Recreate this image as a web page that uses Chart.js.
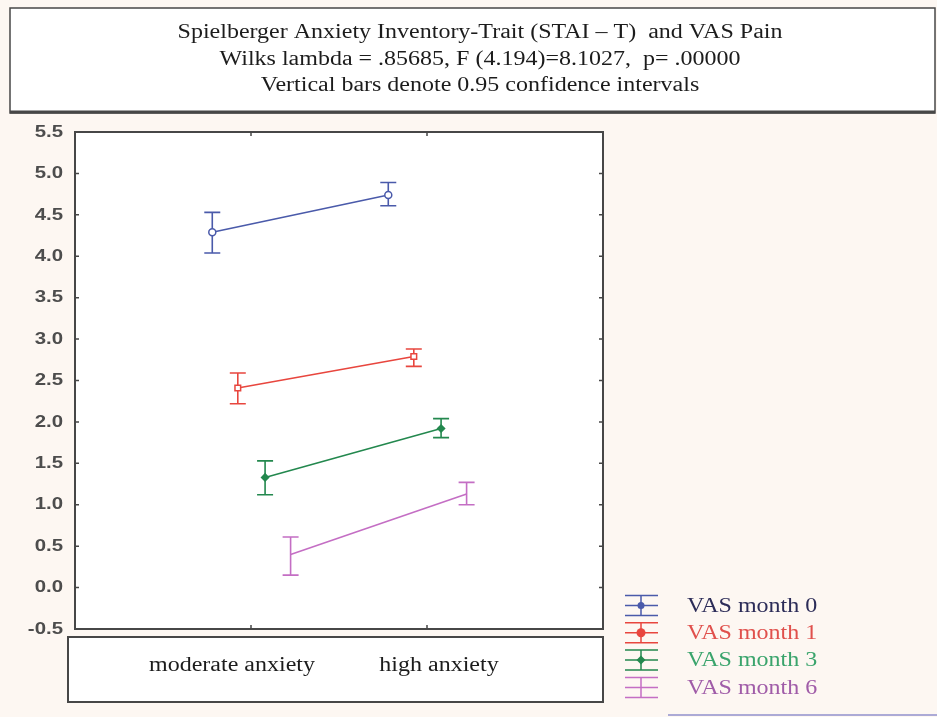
<!DOCTYPE html>
<html>
<head>
<meta charset="utf-8">
<script src="https://cdn.jsdelivr.net/npm/chart.js@4.4.1/dist/chart.umd.min.js"></script>
<style>
  html, body { margin: 0; padding: 0; background: #fdf7f2; }
  canvas { display: block; }
</style>
</head>
<body>
<canvas id="anxietyChart" width="937" height="717"></canvas>
<script>
// groups on the x axis (positions 1 and 2 of a linear scale)
const categories = ['moderate anxiety', 'high anxiety'];
const seriesNames = ['VAS month 0', 'VAS month 1', 'VAS month 3', 'VAS month 6'];

// mean VAS pain and 0.95 confidence limits per group
const month0Mean = [4.29, 4.74];
const month0Low  = [4.04, 4.61];
const month0High = [4.53, 4.89];

const month1Mean = [2.41, 2.79];
const month1Low  = [2.22, 2.67];
const month1High = [2.59, 2.88];

const month3Mean = [1.33, 1.92];
const month3Low  = [1.12, 1.81];
const month3High = [1.53, 2.04];

const month6Mean = [0.40, 1.13];
const month6Low  = [0.15, 1.00];
const month6High = [0.61, 1.27];

const yMin = -0.5, yMax = 5.5, yStep = 0.5;

const titleLines = [
  'Spielberger Anxiety Inventory-Trait (STAI \u2013 T)  and VAS Pain',
  'Wilks lambda = .85685, F (4.194)=8.1027,  p= .00000',
  'Vertical bars denote 0.95 confidence intervals'
];

const serif = '"Liberation Serif", "Times New Roman", serif';
const sans = '"Liberation Sans", Arial, sans-serif';
const frameColor = '#474747';
const lineColors = ['#4a5aaa', '#e8463e', '#23884e', '#c46ec4'];
const textColors = ['#2c2c58', '#e0504c', '#3aa46c', '#a05ca8'];
// small horizontal shift so the four series don't overlap at each group
const seriesShift = [-0.22, -0.075, 0.08, 0.225];
// all text is set a little wide
const textStretch = 1.2;

const means = [month0Mean, month1Mean, month3Mean, month6Mean];
const lows  = [month0Low, month1Low, month3Low, month6Low];
const highs = [month0High, month1High, month3High, month6High];

const pointStyles = [
  { style: 'circle', radius: 3.5, bg: '#ffffff' },
  { style: 'rect', radius: 4, bg: '#ffffff' },
  { style: 'rectRot', radius: 3.5, bg: lineColors[2] },
  { style: 'circle', radius: 0, bg: lineColors[3] }
];

const datasets = seriesNames.map((name, s) => ({
  label: name,
  data: means[s].map((v, i) => ({ x: i + 1 + seriesShift[s], y: v })),
  borderColor: lineColors[s],
  borderWidth: 1.6,
  pointStyle: pointStyles[s].style,
  pointRadius: pointStyles[s].radius,
  pointBackgroundColor: pointStyles[s].bg,
  pointBorderColor: lineColors[s],
  pointBorderWidth: 1.5,
  tension: 0
}));

function wideText(ctx, text, x, y, align) {
  ctx.save();
  ctx.translate(x, y);
  ctx.scale(textStretch, 1);
  ctx.textAlign = align;
  ctx.fillText(text, 0, 0);
  ctx.restore();
}

const decorations = {
  id: 'decorations',
  beforeDraw(chart) {
    const ctx = chart.ctx, a = chart.chartArea;
    ctx.save();
    ctx.fillStyle = '#fdf7f2';
    ctx.fillRect(0, 0, chart.width, chart.height);

    // title box
    ctx.fillStyle = '#ffffff';
    ctx.fillRect(10, 8, 925, 105);
    ctx.strokeStyle = frameColor;
    ctx.lineWidth = 1.5;
    ctx.strokeRect(10, 8, 925, 105);
    ctx.lineWidth = 3;
    ctx.beginPath(); ctx.moveTo(10, 112); ctx.lineTo(935, 112); ctx.stroke();
    ctx.fillStyle = '#1c1c1c';
    ctx.font = '20px ' + serif;
    ctx.textBaseline = 'alphabetic';
    titleLines.forEach((t, i) => wideText(ctx, t, 480, 38 + i * 26.5, 'center'));

    // white plot area
    ctx.fillStyle = '#ffffff';
    ctx.fillRect(a.left, a.top, a.right - a.left, a.bottom - a.top);
    ctx.restore();
  },
  beforeDatasetsDraw(chart) {
    // confidence interval whiskers
    const ctx = chart.ctx, xs = chart.scales.x, ys = chart.scales.y;
    ctx.save();
    ctx.lineWidth = 1.6;
    means.forEach((m, s) => {
      ctx.strokeStyle = lineColors[s];
      m.forEach((v, i) => {
        const px = xs.getPixelForValue(i + 1 + seriesShift[s]);
        const top = ys.getPixelForValue(highs[s][i]);
        const bot = ys.getPixelForValue(lows[s][i]);
        ctx.beginPath();
        ctx.moveTo(px, top); ctx.lineTo(px, bot);
        ctx.moveTo(px - 8, top); ctx.lineTo(px + 8, top);
        ctx.moveTo(px - 8, bot); ctx.lineTo(px + 8, bot);
        ctx.stroke();
      });
    });
    ctx.restore();
  },
  afterDraw(chart) {
    const ctx = chart.ctx, a = chart.chartArea, xs = chart.scales.x, ys = chart.scales.y;
    ctx.save();

    // plot frame with inward tick marks
    ctx.strokeStyle = frameColor;
    ctx.lineWidth = 2;
    ctx.strokeRect(a.left, a.top, a.right - a.left, a.bottom - a.top);
    ctx.lineWidth = 1.5;
    ctx.beginPath();
    ys.ticks.forEach(t => {
      if (t.value <= yMin || t.value >= yMax) return;
      const py = ys.getPixelForValue(t.value);
      ctx.moveTo(a.left, py); ctx.lineTo(a.left + 4, py);
      ctx.moveTo(a.right, py); ctx.lineTo(a.right - 4, py);
    });
    categories.forEach((c, i) => {
      const px = xs.getPixelForValue(i + 1);
      ctx.moveTo(px, a.bottom); ctx.lineTo(px, a.bottom - 4);
      ctx.moveTo(px, a.top); ctx.lineTo(px, a.top + 4);
    });
    ctx.stroke();

    // y tick labels
    ctx.fillStyle = '#4d4d4d';
    ctx.font = 'bold 17px ' + sans;
    ctx.textBaseline = 'middle';
    ys.ticks.forEach(t => {
      wideText(ctx, t.value.toFixed(1), 63, ys.getPixelForValue(t.value), 'right');
    });

    // category label box
    ctx.fillStyle = '#ffffff';
    ctx.fillRect(68, 637, a.right - 68, 65);
    ctx.lineWidth = 2;
    ctx.strokeRect(68, 637, a.right - 68, 65);
    ctx.fillStyle = '#1c1c1c';
    ctx.font = '20px ' + serif;
    const labelNudge = [-19, 12];
    categories.forEach((c, i) => {
      wideText(ctx, c, xs.getPixelForValue(i + 1) + labelNudge[i], 666, 'center');
    });

    // legend
    seriesNames.forEach((name, s) => {
      const cy = 605.5 + s * 27.3;
      ctx.strokeStyle = lineColors[s];
      ctx.lineWidth = 1.5;
      ctx.beginPath();
      [-10, 0, 10].forEach(d => { ctx.moveTo(625, cy + d); ctx.lineTo(658, cy + d); });
      ctx.moveTo(641, cy - 10); ctx.lineTo(641, cy + 10);
      ctx.stroke();
      ctx.fillStyle = lineColors[s];
      if (s === 0 || s === 1) {
        ctx.beginPath(); ctx.arc(641, cy, s === 1 ? 4.5 : 3.5, 0, Math.PI * 2); ctx.fill();
      } else if (s === 2) {
        ctx.beginPath();
        ctx.moveTo(641, cy - 4.5); ctx.lineTo(645.5, cy); ctx.lineTo(641, cy + 4.5); ctx.lineTo(636.5, cy);
        ctx.closePath(); ctx.fill();
      }
      ctx.fillStyle = textColors[s];
      wideText(ctx, name, 687, cy + 1, 'left');
    });

    // faint rule at the page bottom
    ctx.strokeStyle = '#9090cc';
    ctx.lineWidth = 1.5;
    ctx.beginPath(); ctx.moveTo(668, 715); ctx.lineTo(937, 715); ctx.stroke();
    ctx.restore();
  }
};

new Chart(document.getElementById('anxietyChart').getContext('2d'), {
  type: 'line',
  data: { datasets: datasets },
  options: {
    responsive: false,
    animation: false,
    layout: { padding: { left: 0, top: 132, right: 334, bottom: 88 } },
    plugins: { legend: { display: false }, tooltip: { enabled: false } },
    scales: {
      x: { type: 'linear', min: 0, max: 3, display: false },
      y: {
        min: yMin, max: yMax,
        afterFit(scale) { scale.width = 75; },
        grid: { display: false, drawTicks: false },
        border: { display: false },
        ticks: { stepSize: yStep, display: false }
      }
    }
  },
  plugins: [decorations]
});
</script>
</body>
</html>
